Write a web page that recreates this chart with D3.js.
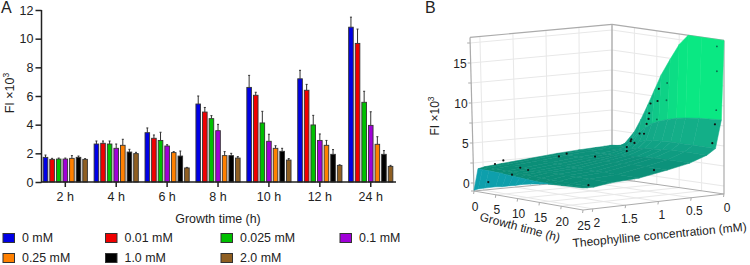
<!DOCTYPE html>
<html><head><meta charset="utf-8">
<script src="https://cdn.jsdelivr.net/npm/d3@7"></script>
<style>
html,body{margin:0;padding:0;background:#fff;overflow:hidden}
svg{display:block}
text{font-family:"Liberation Sans",Arial,sans-serif;fill:#222}
</style></head><body>
<svg id="c" width="750" height="265"></svg>
<script>
// ---------- data: panel A ----------
const groups = ["2 h","4 h","6 h","8 h","10 h","12 h","24 h"];
const seriesNames = ["0 mM","0.01 mM","0.025 mM","0.1 mM","0.25 mM","1.0 mM","2.0 mM"];
const seriesColors = ["#0000e6","#f00000","#00c000","#a000d8","#ff8000","#000000","#8f5f22"];
const barValues = [
 [1.72,1.58,1.60,1.60,1.65,1.72,1.58],
 [2.65,2.70,2.65,2.35,2.56,2.09,1.98],
 [3.44,3.05,2.90,2.51,2.05,1.81,0.98],
 [5.44,4.88,4.42,3.58,1.84,1.84,1.67],
 [6.60,6.05,4.12,2.84,2.35,2.14,1.53],
 [7.20,6.40,3.98,2.90,2.56,1.93,1.16],
 [10.80,9.67,5.56,3.95,2.63,1.93,1.09]];
const errTops = [
 [1.88,1.65,1.67,1.67,1.84,1.81,1.63],
 [2.86,2.86,2.86,2.65,2.98,2.28,2.07],
 [3.77,3.28,3.47,2.60,2.12,2.16,1.02],
 [6.00,5.20,4.63,4.02,2.12,2.00,1.77],
 [7.44,6.26,4.93,3.33,2.53,2.35,1.63],
 [7.79,6.81,4.65,3.35,2.90,2.26,1.20],
 [11.50,10.67,6.33,4.90,3.16,2.19,1.16]];
const yTicksA = [0,2,4,6,8,10,12];

// ---------- data: panel B ----------
const surfTimes = [0,1,2.5,5,6.5,8,9.5,11,13,15,17,20,25];
const surfConcs = [0,0.04,0.13,0.26,0.52,0.86,1.29,1.72,1.98,2.08,2.15];
const surfHeights = [
 [3.1,3.15,3.3,5.2,6.9,8.8,10.8,12.8,14.9,16.9,18.2,18.2,18.2],
 [3.1,3.15,3.3,4.2,5.2,6.0,6.6,7.0,7.4,7.7,7.9,8.1,8.3],
 [3.05,3.1,3.2,3.5,3.95,4.3,4.55,4.7,4.75,4.8,4.8,4.8,4.8],
 [3.0,3.0,3.1,3.15,3.3,3.5,3.65,3.8,3.9,4.0,4.05,4.1,4.1],
 [2.9,2.9,2.95,2.95,2.95,2.95,3.02,3.1,3.18,3.25,3.3,3.35,3.35],
 [2.72,2.72,2.75,2.7,2.65,2.62,2.65,2.7,2.72,2.75,2.8,2.8,2.8],
 [2.4,2.4,2.4,2.35,2.3,2.25,2.2,2.2,2.2,2.2,2.2,2.2,2.2],
 [2.1,2.1,2.1,2.05,2.0,1.95,1.95,2.0,2.0,2.0,2.0,2.0,2.0],
 [1.9,1.9,1.9,1.88,1.85,1.82,1.78,1.75,1.72,1.7,1.7,1.7,1.72],
 [1.72,1.72,1.7,1.66,1.6,1.55,1.5,1.45,1.4,1.38,1.45,1.6,1.72],
 [-0.9,-0.65,-0.4,0.0,0.15,0.4,0.6,0.85,1.1,1.3,1.5,1.6,1.75]];
const dotsDark = [
 [2,1.95,2.41],[2,1.82,2.76],[2,2.06,0.24],[2,1.69,0.88],[2,1.56,1.64],[2,1.44,1.27],[2,0.96,2.59],[2,0.84,2.85],
 [24,2.0,1.87],[4.6,0.58,2.5],[24,1.0,2.84],[24,0.11,5.38],[24,0.07,7.7],
 [4.6,0.09,3.3],[4.6,0.09,2.8],[4.6,0.03,4.0],[4.6,0.02,4.2],[6.6,0.11,4.0],[6.6,0.03,5.1],
 [8.6,0.1,5.3],[8.6,0.06,6.5],[8.6,0.03,7.1],[8.6,0.02,7.8],[8.6,0,9.0],[10.6,0.03,9.5],[10.6,0.01,11.0]];
const dotsFaint = [[24,0.05,9.45],[24,0.04,14.3],[24,0.04,17.4],[12.6,0.02,11.9],[12.6,0.03,9.75],[10.6,0.04,7.2]];
const timeTicks = [0,5,10,15,20,25];
const concTicks = [0,0.5,1,1.5,2];
const zTicks = [0,5,10,15];
const zMinorTicks = [-1,0,2.5,5,7.5,10,12.5,15,17.5];

const svg = d3.select("#c");

// ---------- panel A ----------
const x0 = d3.scaleBand().domain(groups).range([39.85,396.2]);
const x1 = d3.scaleBand().domain(seriesNames).range([-23.1,23.1]);
const yA = d3.scaleLinear().domain([0,12]).range([182,10]);
const A = svg.append("g");
groups.forEach((g,i)=>{
  const cx = x0(g)+x0.bandwidth()/2;
  seriesNames.forEach((s,j)=>{
    const bx = cx+x1(s)+x1.bandwidth()/2;
    A.append("line").attr("x1",bx).attr("x2",bx).attr("y1",yA(barValues[i][j])).attr("y2",yA(errTops[i][j]))
      .attr("stroke","#333").attr("stroke-width",1);
    A.append("line").attr("x1",bx-1).attr("x2",bx+1).attr("y1",yA(errTops[i][j])).attr("y2",yA(errTops[i][j]))
      .attr("stroke","#333").attr("stroke-width",1);
    A.append("rect").attr("x",bx-2.3).attr("width",4.6).attr("y",yA(barValues[i][j]))
      .attr("height",yA(0)-yA(barValues[i][j])).attr("fill",seriesColors[j]).attr("stroke","#333").attr("stroke-width",0.9);
  });
});
const axY = A.append("g").attr("transform","translate(41.5,0)").call(d3.axisLeft(yA).tickValues(yTicksA).tickSize(6).tickPadding(2).tickSizeOuter(0));
const axX = A.append("g").attr("transform","translate(0,182)").call(d3.axisBottom(x0).tickSize(5).tickPadding(5).tickSizeOuter(0));
[axY,axX].forEach(a=>{
  a.selectAll("path,line").attr("stroke","#222").attr("stroke-width",1.5);
  a.selectAll("text").attr("font-size",12.5).attr("fill","#222").attr("font-family","Liberation Sans");
});
axY.select("path").attr("d","M0,182.7V10");
axX.select("path").attr("d","M41,0H396");
const fiA = A.append("text").attr("transform","translate(14,93) rotate(-90)").attr("text-anchor","middle").attr("font-size",12.5);
fiA.append("tspan").text("FI \u00d710");
fiA.append("tspan").text("3").attr("font-size",8.5).attr("dy",-5);
A.append("text").attr("x",218).attr("y",223).attr("text-anchor","middle").attr("font-size",12.4).text("Growth time (h)");
svg.append("text").attr("x",1).attr("y",13).attr("font-size",16).text("A");
svg.append("text").attr("x",425).attr("y",13).attr("font-size",16).text("B");

// legend
const legendX = [3,105.5,221,340];
const legendY = [238,258];
seriesNames.forEach((s,i)=>{
  const lx = legendX[i%4], ly = legendY[Math.floor(i/4)];
  svg.append("rect").attr("x",lx).attr("y",ly-4.5).attr("width",11.5).attr("height",9)
     .attr("fill",seriesColors[i]).attr("stroke","#333").attr("stroke-width",1);
  svg.append("text").attr("x",lx+19).attr("y",ly+4.2).attr("font-size",12.4).text(s);
});

// ---------- panel B ----------
const tFrac = d3.scaleLinear().domain([0,25]).range([0,1]);
const cFrac = d3.scaleLinear().domain([0,2.15]).range([0,1]);
const zPx = d3.scaleLinear().domain([-1,18.2]).range([0,153.6]);
const cornersX = [[612,724],[474,583]], cornersY = [[178,194],[191,210]];
function proj(t,c,z){
  const v=tFrac(t), u=cFrac(c);
  const lerp=m=>(1-u)*((1-v)*m[0][0]+v*m[0][1])+u*((1-v)*m[1][0]+v*m[1][1]);
  const lean=4*((z+1)/19.2)*u*(1-v);
  return [lerp(cornersX)-lean, lerp(cornersY)-zPx(z)];
}
const B = svg.append("g");
const line3 = (a,b,col,w)=>{const p=proj(...a),q=proj(...b);
  B.append("line").attr("x1",p[0]).attr("y1",p[1]).attr("x2",q[0]).attr("y2",q[1]).attr("stroke",col).attr("stroke-width",w);};
const gridCol="#e8e8e8", boxCol="#ababab", zTop=18.2, zBot=-1, cMax=2.15, tMax=25;
zMinorTicks.slice(1).forEach(z=>{
  line3([0,0,z],[0,cMax,z],gridCol,1);
  line3([0,0,z],[tMax,0,z],gridCol,1);
});
timeTicks.slice(1,-1).forEach(t=>{
  line3([t,0,zBot],[t,0,zTop],gridCol,1);
  line3([t,0,zBot],[t,cMax,zBot],gridCol,1);
});
concTicks.slice(1).forEach(c=>{
  line3([0,c,zBot],[0,c,zTop],gridCol,1);
  line3([0,c,zBot],[tMax,c,zBot],gridCol,1);
});
line3([0,0,zBot],[0,0,zTop],boxCol,1.4);
line3([tMax,0,zBot],[tMax,0,zTop],boxCol,1.2);
line3([0,cMax,zBot],[0,cMax,zTop],boxCol,1.2);
line3([0,cMax,zTop],[0,0,zTop],boxCol,1.2);
line3([0,0,zTop],[tMax,0,zTop],boxCol,1.2);
line3([0,0,zBot],[0,cMax,zBot],boxCol,1);
line3([0,0,zBot],[tMax,0,zBot],boxCol,1);
line3([0,cMax,zBot],[tMax,cMax,zBot],boxCol,1);
line3([tMax,cMax,zBot],[tMax,0,zBot],boxCol,1);
timeTicks.forEach(t=>{const p=proj(t,cMax,zBot);
  B.append("line").attr("x1",p[0]).attr("y1",p[1]).attr("x2",p[0]-0.4).attr("y2",p[1]+3).attr("stroke",boxCol);
  B.append("text").attr("x",p[0]+1).attr("y",p[1]+19.5).attr("text-anchor","middle").attr("font-size",12).text(t);
});
concTicks.forEach(c=>{const p=proj(tMax,c,zBot);
  B.append("line").attr("x1",p[0]).attr("y1",p[1]).attr("x2",p[0]-0.5).attr("y2",p[1]+3).attr("stroke",boxCol);
  B.append("text").attr("x",p[0]+3+c*0.5).attr("y",p[1]+17.5+c*0.5).attr("text-anchor","middle").attr("font-size",12).text(c);
});
zMinorTicks.forEach(z=>{const p=proj(0,cMax,z);
  B.append("line").attr("x1",p[0]-3).attr("y1",p[1]).attr("x2",p[0]).attr("y2",p[1]).attr("stroke",boxCol);
});
zTicks.forEach(z=>{const p=proj(0,cMax,z);
  B.append("text").attr("x",p[0]-4).attr("y",p[1]+4.5).attr("text-anchor","end").attr("font-size",12).text(z);
});
const fiB = B.append("text").attr("transform","translate(439,116) rotate(-90)").attr("text-anchor","middle").attr("font-size",12);
fiB.append("tspan").text("FI \u00d710");
fiB.append("tspan").text("3").attr("font-size",8.5).attr("dy",-5);
B.append("text").attr("transform","translate(519,231) rotate(15)").attr("text-anchor","middle").attr("font-size",12).text("Growth time (h)");
B.append("text").attr("transform","translate(660,239) rotate(-5.5)").attr("text-anchor","middle").attr("font-size",12).text("Theophylline concentration (mM)");

const surfColor = d3.scaleLinear()
  .domain([-1,1.47,1.5,3,4,6,9,13,18.2])
  .range(["#0f9fb4","#0e9fa8","#0b8d76","#0c917a","#10a084","#14ab88","#10c588","#0ae883","#08f085"]);
const cellPath = d3.line();
const S = B.append("g");
for(let i=0;i<surfConcs.length-1;i++){
  for(let j=0;j<surfTimes.length-1;j++){
    const zs=[surfHeights[i][j],surfHeights[i][j+1],surfHeights[i+1][j+1],surfHeights[i+1][j]];
    const pts=[proj(surfTimes[j],surfConcs[i],zs[0]),proj(surfTimes[j+1],surfConcs[i],zs[1]),
               proj(surfTimes[j+1],surfConcs[i+1],zs[2]),proj(surfTimes[j],surfConcs[i+1],zs[3])];
    const col=surfColor(d3.mean(zs));
    S.append("path").attr("d",cellPath(pts)+"Z").attr("fill",col).attr("stroke",col).attr("stroke-width",0.5);
  }
}
dotsDark.forEach(d=>{const p=proj(...d);
  B.append("circle").attr("cx",p[0]).attr("cy",p[1]).attr("r",1.1).attr("fill","#111");});
dotsFaint.forEach(d=>{const p=proj(...d);
  B.append("circle").attr("cx",p[0]).attr("cy",p[1]).attr("r",0.9).attr("fill","#0b6b4e");});
</script>
</body></html>
